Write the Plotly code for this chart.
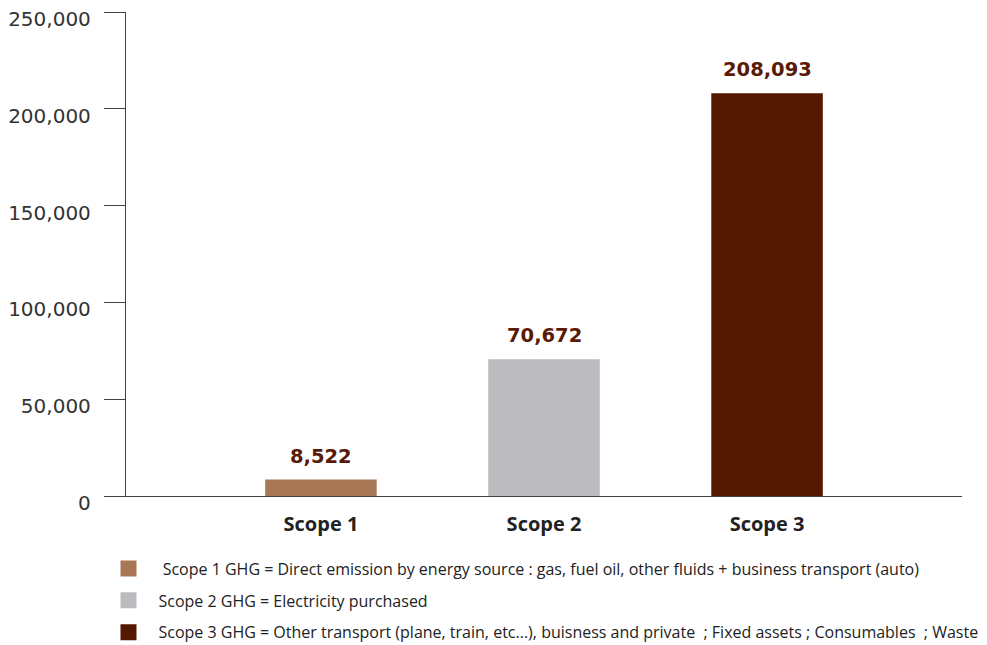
import plotly.graph_objects as go

categories = ["Scope 1", "Scope 2", "Scope 3"]
values = [8522, 70672, 208093]
value_labels = ["8,522", "70,672", "208,093"]
bar_colors = ["#a87755", "#bcbcc0", "#541700"]
legend_texts = [
    " Scope 1 GHG = Direct emission by energy source : gas, fuel oil, other fluids + business transport (auto)",
    "Scope 2 GHG = Electricity purchased",
    "Scope 3 GHG = Other transport (plane, train, etc...), buisness and private  ; Fixed assets ; Consumables  ; Waste",
]
y_ticks = [0, 50000, 100000, 150000, 200000, 250000]
y_tick_labels = ["0", "50,000", "100,000", "150,000", "200,000", "250,000"]

fig = go.Figure()
fig.add_trace(go.Bar(
    x=categories, y=values, marker=dict(color=bar_colors, line=dict(width=0)),
    width=0.5, showlegend=False, hoverinfo="skip",
))
for i, (txt, col) in enumerate(zip(legend_texts, bar_colors)):
    fig.add_trace(go.Scatter(
        x=[None], y=[None], mode="markers", name=txt,
        marker=dict(symbol="square", size=16, color=col),
        legendgroup=f"g{i}", showlegend=True, hoverinfo="skip",
    ))

for c, v, t in zip(categories, values, value_labels):
    fig.add_annotation(x=c, y=v, text=f"<b>{t}</b>", showarrow=False,
                       yanchor="bottom", yshift=10,
                       font=dict(family="DejaVu Sans", size=19.5, color="#5a1a08"))

fig.update_layout(
    width=979, height=637,
    margin=dict(l=118, r=25, t=4, b=149, autoexpand=False),
    paper_bgcolor="white", plot_bgcolor="white",
    xaxis=dict(
        range=[-0.874, 2.874], showgrid=False, showline=True, linecolor="#444",
        linewidth=1.3, ticks="", ticklabelstandoff=10,
        tickfont=dict(family="Open Sans", size=20, color="#222", weight="bold"),
        zeroline=False,
    ),
    yaxis=dict(
        range=[0, 250000], tickvals=y_ticks, ticktext=y_tick_labels,
        showgrid=False, showline=True, linecolor="#444", linewidth=1.3,
        ticks="outside", ticklen=21, tickcolor="#444", tickwidth=1.3,
        ticklabelstandoff=9, ticklabelshift=7, ticklabeloverflow="allow",
        tickfont=dict(family="DejaVu Sans", size=20, color="#333"),
        zeroline=False,
    ),
    legend=dict(
        x=-0.0329, xanchor="left", y=-0.115, yanchor="top",
        traceorder="grouped", tracegroupgap=8, itemwidth=50,
        font=dict(family="Open Sans", size=16, color="#222"),
        bgcolor="rgba(0,0,0,0)",
    ),
)
fig.write_html("out.html")
